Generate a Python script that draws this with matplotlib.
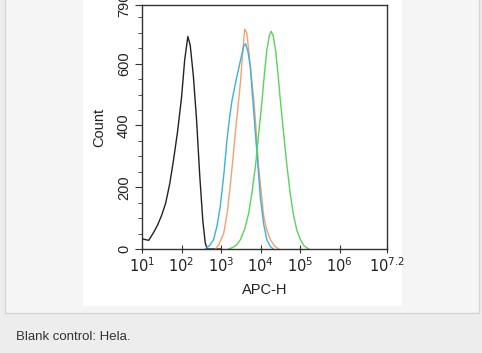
import matplotlib.pyplot as plt
from matplotlib.patches import Rectangle
import numpy as np

plt.rcParams['font.family'] = ['Liberation Sans', 'DejaVu Sans']

# histogram traces: log10(APC-H) and count
black_logx = [1.0, 1.1, 1.17, 1.3, 1.4, 1.5, 1.6, 1.7, 1.8, 1.9, 2.0, 2.08, 2.16, 2.22, 2.3, 2.38, 2.46, 2.54, 2.6, 2.65, 2.8, 3.0]
black_count = [33, 30, 28, 55, 79, 110, 149, 210, 290, 380, 490, 612, 688, 660, 560, 420, 240, 90, 20, 0, 0, 0]

blue_logx = [2.6, 2.7, 2.81, 2.9, 2.98, 3.07, 3.15, 3.22, 3.28, 3.34, 3.4, 3.5, 3.57, 3.62, 3.68, 3.74, 3.8, 3.87, 3.94, 4.0, 4.08, 4.16, 4.25, 4.32]
blue_count = [0, 10, 30, 75, 138, 240, 353, 430, 483, 520, 558, 615, 655, 665, 640, 590, 490, 375, 260, 160, 80, 30, 8, 0]

orange_logx = [2.86, 2.95, 3.07, 3.16, 3.24, 3.3, 3.36, 3.43, 3.49, 3.55, 3.6, 3.65, 3.7, 3.76, 3.83, 3.89, 3.95, 4.02, 4.08, 4.16, 4.25, 4.35, 4.46]
orange_count = [0, 15, 52, 120, 213, 290, 375, 460, 537, 640, 712, 700, 644, 570, 483, 380, 267, 180, 106, 60, 30, 10, 0]

green_logx = [3.19, 3.3, 3.4, 3.49, 3.6, 3.7, 3.78, 3.87, 3.95, 4.04, 4.1, 4.16, 4.22, 4.27, 4.32, 4.38, 4.44, 4.5, 4.58, 4.67, 4.75, 4.84, 4.92, 5.01, 5.1, 5.22]
green_count = [0, 5, 14, 30, 65, 116, 180, 267, 370, 483, 570, 644, 690, 705, 690, 644, 570, 483, 380, 267, 180, 106, 60, 30, 10, 0]

decades = [1, 2, 3, 4, 5, 6, 7.2]
decade_labels = ['$10^1$', '$10^2$', '$10^3$', '$10^4$', '$10^5$', '$10^6$', '$10^{7.2}$']
count_ticks = [0, 200, 400, 600, 790]

fig = plt.figure(figsize=(4.82, 3.53), dpi=100, facecolor='#ecedec')

# page panel, white image area (behind the axes)
fig.patches.append(Rectangle((5 / 482, 40 / 353), 474 / 482, 320 / 353, transform=fig.transFigure,
                             facecolor='#f4f5f4', edgecolor='#d4d4d4', lw=1, zorder=-2))
fig.patches.append(Rectangle((83 / 482, 47 / 353), 319 / 482, 310 / 353, transform=fig.transFigure,
                             facecolor='white', edgecolor='none', zorder=-1))

ax = fig.add_axes([142 / 482, 104 / 353, 245 / 482, 244 / 353])
ax.set_facecolor('white')

ax.plot(10 ** np.array(black_logx), black_count, color='#222222', lw=1)
ax.plot(10 ** np.array(orange_logx), orange_count, color='#f2a271', lw=1)
ax.plot(10 ** np.array(blue_logx), blue_count, color='#3cb0de', lw=1)
ax.plot(10 ** np.array(green_logx), green_count, color='#5ad35a', lw=1)

ax.set_xscale('log')
ax.set_xlim(10 ** 1, 10 ** 7.2)
ax.set_ylim(0, 790)
ax.set_xticks([10 ** d for d in decades])
ax.set_xticklabels(decade_labels)
ax.set_yticks(count_ticks)
ax.set_yticklabels([str(c) for c in count_ticks], rotation=90, va='center')
ax.set_yticks(np.arange(50, 790, 50), minor=True)

for s in ax.spines.values():
    s.set_color('#333333')
    s.set_linewidth(1)
ax.tick_params(axis='x', which='major', direction='inout', length=6, labelsize=10.5, pad=2, colors='#333333')
ax.tick_params(axis='x', which='minor', direction='in', length=3, colors='#333333')
ax.tick_params(axis='y', which='major', direction='out', length=5, labelsize=10.5, pad=3, colors='#333333')
ax.tick_params(axis='y', which='minor', direction='out', length=3, colors='#333333')
for t in ax.get_xticklabels() + ax.get_yticklabels():
    t.set_color('#222222')

ax.set_xlabel('APC-H', fontsize=10.5, color='#222222', labelpad=6)
ax.set_ylabel('Count', fontsize=10.5, color='#222222', labelpad=8)

fig.text(16 / 482, 16 / 353, 'Blank control: Hela.', fontsize=9.5, color='#333333', va='center')

fig.savefig('out.png', dpi=100, facecolor=fig.get_facecolor())
